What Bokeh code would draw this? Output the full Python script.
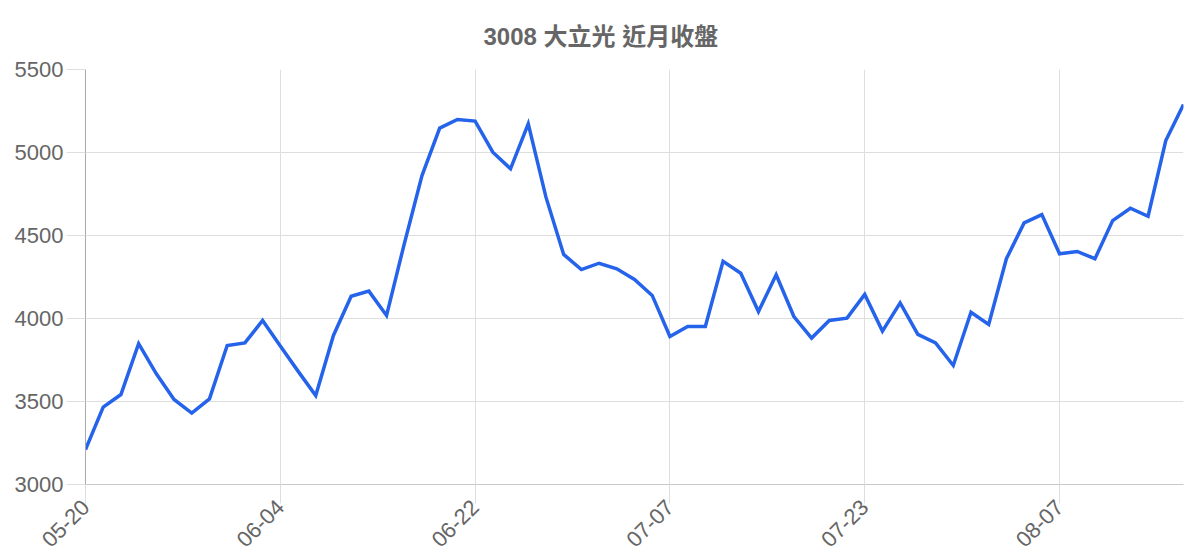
from math import pi
from bokeh.plotting import figure
from bokeh.models import Range1d, FixedTicker, Title
from bokeh.embed import file_html
from bokeh.resources import INLINE

title_text = "3008 大立光 近月收盤"

dates = [
    "05-20", "05-21", "05-22", "05-23", "05-24", "05-27", "05-28", "05-29", "05-30", "05-31", "06-03", "06-04",
    "06-05", "06-06", "06-07", "06-11", "06-12", "06-13", "06-14", "06-17", "06-18", "06-19", "06-22",
    "06-23", "06-24", "06-25", "06-26", "06-27", "06-30", "07-01", "07-02", "07-03", "07-04", "07-07",
    "07-08", "07-09", "07-10", "07-11", "07-14", "07-15", "07-16", "07-17", "07-18", "07-21", "07-23",
    "07-24", "07-25", "07-28", "07-29", "07-30", "07-31", "08-01", "08-04", "08-05", "08-06", "08-07",
    "08-08", "08-11", "08-12", "08-13", "08-14", "08-15", "08-18",
]

closes = [
    3210, 3466, 3542, 3848, 3667, 3512, 3430, 3516, 3837, 3853, 3988, 3834,
    3683, 3536, 3898, 4134, 4165, 4018, 4450, 4861, 5147, 5199, 5189,
    5002, 4902, 5173, 4731, 4386, 4295, 4333, 4299, 4235, 4139, 3892,
    3952, 3952, 4345, 4273, 4042, 4263, 4012, 3882, 3988, 4002, 4145,
    3924, 4094, 3904, 3853, 3717, 4038, 3964, 4360, 4576, 4626, 4390,
    4404, 4360, 4590, 4664, 4616, 5072, 5289,
]

y_ticks = [3000, 3500, 4000, 4500, 5000, 5500]
label_step = 11

FONT = "Liberation Sans, Arial, Noto Sans CJK TC, sans-serif"
TEXT_COLOR = "#666666"
GRID_COLOR = "#dedede"

x = list(range(len(dates)))

p = figure(
    width=1200, height=560,
    output_backend="svg", toolbar_location=None,
    x_range=Range1d(0, len(dates) - 1),
    y_range=Range1d(y_ticks[0], y_ticks[-1]),
    min_border_left=85, min_border_right=17, min_border_top=69, min_border_bottom=76,
)
p.outline_line_color = None
p.background_fill_color = "white"
p.border_fill_color = "white"

p.line(x, closes, line_color="#2563eb", line_width=3.5, line_join="miter")

tick_idx = list(range(0, len(dates), label_step))
p.xaxis.ticker = FixedTicker(ticks=tick_idx)
p.xaxis.major_label_overrides = {i: dates[i] for i in tick_idx}
p.xaxis.major_label_orientation = pi / 4
p.yaxis.ticker = FixedTicker(ticks=y_ticks)

for ax in (p.xaxis[0], p.yaxis[0]):
    ax.major_label_text_font = FONT
    ax.major_label_text_font_size = "22px"
    ax.major_label_text_color = TEXT_COLOR
    ax.major_tick_in = 0
    ax.major_tick_out = 19
    ax.major_tick_line_color = GRID_COLOR
    ax.minor_tick_line_color = None

p.yaxis.axis_line_color = "#aaaaaa"
p.xaxis.axis_line_color = "#c8c8c8"
p.yaxis.major_label_standoff = 3
p.xaxis.major_label_standoff = 0

p.xgrid.grid_line_color = GRID_COLOR
p.ygrid.grid_line_color = GRID_COLOR

title = Title(
    text=title_text, align="left", offset=398, standoff=40,
    text_font=FONT, text_font_size="24px", text_font_style="bold",
    text_color=TEXT_COLOR, text_line_height=0.6,
)
p.add_layout(title, "above")

open("out.html", "w").write(file_html(p, INLINE))
